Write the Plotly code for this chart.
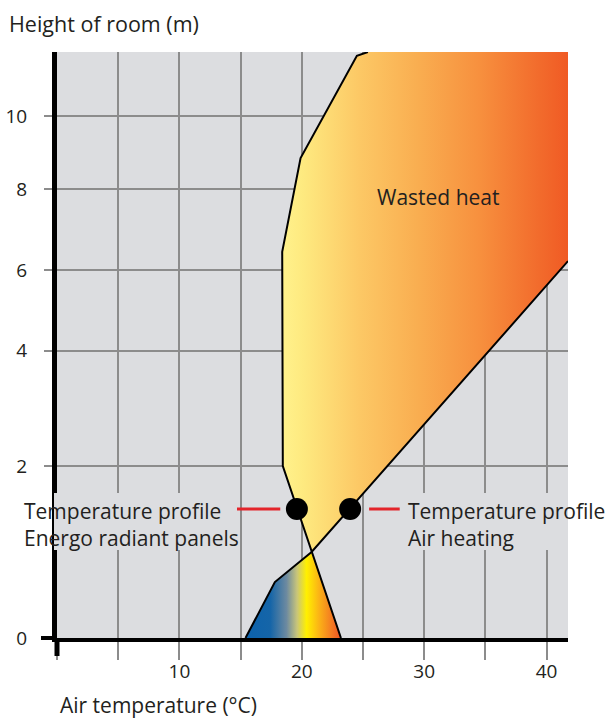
import numpy as np
import plotly.graph_objects as go

# ---------------- data ----------------
# Temperature profile with Energo radiant panels (°C vs height in m)
radiant_temp = [23.2, 20.8, 18.45, 18.4, 19.9, 24.5, 25.4]
radiant_height = [0.0, 1.0, 2.0, 6.45, 8.85, 11.88, 12.0]
# Temperature profile with air heating
air_temp = [15.4, 17.8, 20.8, 41.75]
air_height = [0.0, 0.65, 1.0, 6.22]
# measurement points at 1.5 m
probe_temp = [19.6, 23.95]
probe_height = [1.5, 1.5]

temp_ticks = [0, 5, 10, 15, 20, 25, 30, 35, 40]
temp_tick_labels = ["", "", "10", "", "20", "", "30", "", "40"]
height_ticks = [0, 2, 4, 6, 8, 10]
height_tick_labels = ["0", "2", "4", "6", "8", "10"]
room_top = 12.0
temp_max = 41.75

# -------- irregular (hand-drawn) height scale --------
SCALE_H = [0, 2, 4, 6, 8, 10, 12]
SCALE_D = [0, 172, 287.5, 368, 449, 522, 586]


def ymap(h):
    return list(np.interp(np.asarray(h, dtype=float), SCALE_H, SCALE_D))


# polygons built from the two profiles
wasted_x = radiant_temp[::-1][:-1] + air_temp[3:] + [temp_max]
wasted_h = radiant_height[::-1][:-1] + air_height[3:] + [room_top]
lower_x = air_temp[:3] + [radiant_temp[0]]
lower_h = air_height[:3] + [radiant_height[0]]

FONT = "Open Sans"
TXT = "#231f20"
GRID = "#8c8c8c"
BG = "#dcdde0"
RED = "#e3242b"

fig = go.Figure()

fig.add_trace(go.Scatter(
    x=wasted_x, y=ymap(wasted_h), fill="toself", mode="none",
    fillgradient=dict(type="horizontal", colorscale=[
        [0.0, "#fff28c"], [0.07, "#feea80"], [0.27, "#fcc865"],
        [0.48, "#f9ad50"], [0.69, "#f7903e"], [0.9, "#f26b2c"], [1.0, "#f05a24"]]),
    hoverinfo="skip", showlegend=False))

fig.add_trace(go.Scatter(
    x=lower_x, y=ymap(lower_h), fill="toself", mode="none",
    fillgradient=dict(type="horizontal", colorscale=[
        [0.0, "#0c62ac"], [0.26, "#1565a8"], [0.43, "#6d8aa0"],
        [0.54, "#c9c57a"], [0.64, "#fff000"], [0.77, "#fbb316"],
        [0.9, "#f47c22"], [1.0, "#ef5323"]]),
    hoverinfo="skip", showlegend=False))

fig.add_trace(go.Scatter(x=radiant_temp, y=ymap(radiant_height), mode="lines",
                         line=dict(color="black", width=2), showlegend=False,
                         name="Energo radiant panels"))
fig.add_trace(go.Scatter(x=air_temp, y=ymap(air_height), mode="lines",
                         line=dict(color="black", width=2), showlegend=False,
                         name="Air heating"))

# red leaders
lead_y = ymap([1.5])[0]
fig.add_trace(go.Scatter(x=[14.17, 18.24, None, 25.5, 28.0],
                         y=[lead_y, lead_y, None, lead_y, lead_y], mode="lines",
                         line=dict(color=RED, width=3), showlegend=False,
                         hoverinfo="skip"))

fig.add_trace(go.Scatter(x=probe_temp, y=ymap(probe_height), mode="markers",
                         marker=dict(color="black", size=22), showlegend=False))

PW, PH, L, T = 511, 586, 57, 52


def px(xp):
    return (xp - L) / PW


def py(yp):
    return (T + PH - yp) / PH


shapes = [
    dict(type="rect", xref="paper", yref="paper", x0=px(54), x1=px(237),
         y0=py(550), y1=py(493), fillcolor=BG, line=dict(width=0), layer="above"),
    dict(type="rect", xref="paper", yref="paper", x0=px(403), x1=px(568),
         y0=py(550), y1=py(493), fillcolor=BG, line=dict(width=0), layer="above"),
    dict(type="line", xref="paper", yref="paper", x0=px(41), x1=px(57),
         y0=0, y1=0, line=dict(color="black", width=4), layer="above"),
    dict(type="line", xref="paper", yref="paper", x0=0, x1=0,
         y0=py(656), y1=0, line=dict(color="black", width=5), layer="above"),
]

annotations = [
    dict(text="Height of room (m)", xref="paper", yref="paper", x=px(7), y=py(23),
         xanchor="left", yanchor="middle", showarrow=False,
         font=dict(family=FONT, size=21.5, color=TXT)),
    dict(text="Air temperature (°C)", xref="paper", yref="paper", x=px(58), y=py(705),
         xanchor="left", yanchor="middle", showarrow=False,
         font=dict(family=FONT, size=21, color=TXT)),
    dict(text="Wasted heat", xref="x", yref="y", x=31.1, y=441,
         xanchor="center", yanchor="middle", showarrow=False,
         font=dict(family=FONT, size=21, color=TXT)),
    dict(text="Temperature profile<br>Energo radiant panels", xref="paper", yref="paper",
         x=px(22), y=py(524), xanchor="left", yanchor="middle", align="left",
         showarrow=False, font=dict(family=FONT, size=21, color=TXT)),
    dict(text="Temperature profile<br>Air heating", xref="paper", yref="paper",
         x=px(406), y=py(524), xanchor="left", yanchor="middle", align="left",
         showarrow=False, font=dict(family=FONT, size=21, color=TXT)),
]

fig.update_layout(
    width=608, height=718,
    margin=dict(l=57, r=40, t=52, b=80, autoexpand=False),
    paper_bgcolor="white", plot_bgcolor=BG,
    font=dict(family=FONT, size=19, color=TXT),
    shapes=shapes, annotations=annotations,
    xaxis=dict(range=[0, temp_max], tickmode="array", tickvals=temp_ticks,
               ticktext=temp_tick_labels, ticks="outside", ticklen=18, tickwidth=2,
               tickcolor=GRID, showgrid=True, gridcolor=GRID, gridwidth=2,
               showline=True, linecolor="black", linewidth=4, zeroline=False,
               ticklabelstandoff=-5, automargin=False, tickfont=dict(size=19, color=TXT)),
    yaxis=dict(range=[0, SCALE_D[-1]], tickmode="array", tickvals=ymap(height_ticks),
               ticktext=height_tick_labels, ticks="outside", ticklen=8, tickwidth=2,
               tickcolor=GRID, showgrid=True, gridcolor=GRID, gridwidth=2,
               showline=True, linecolor="black", linewidth=5, zeroline=False,
               ticklabelstandoff=13, automargin=False, tickfont=dict(size=19, color=TXT)),
)

fig.write_html("out.html", config={"displayModeBar": False},
               post_script="document.body.style.margin='0';document.body.style.overflow='hidden';")
